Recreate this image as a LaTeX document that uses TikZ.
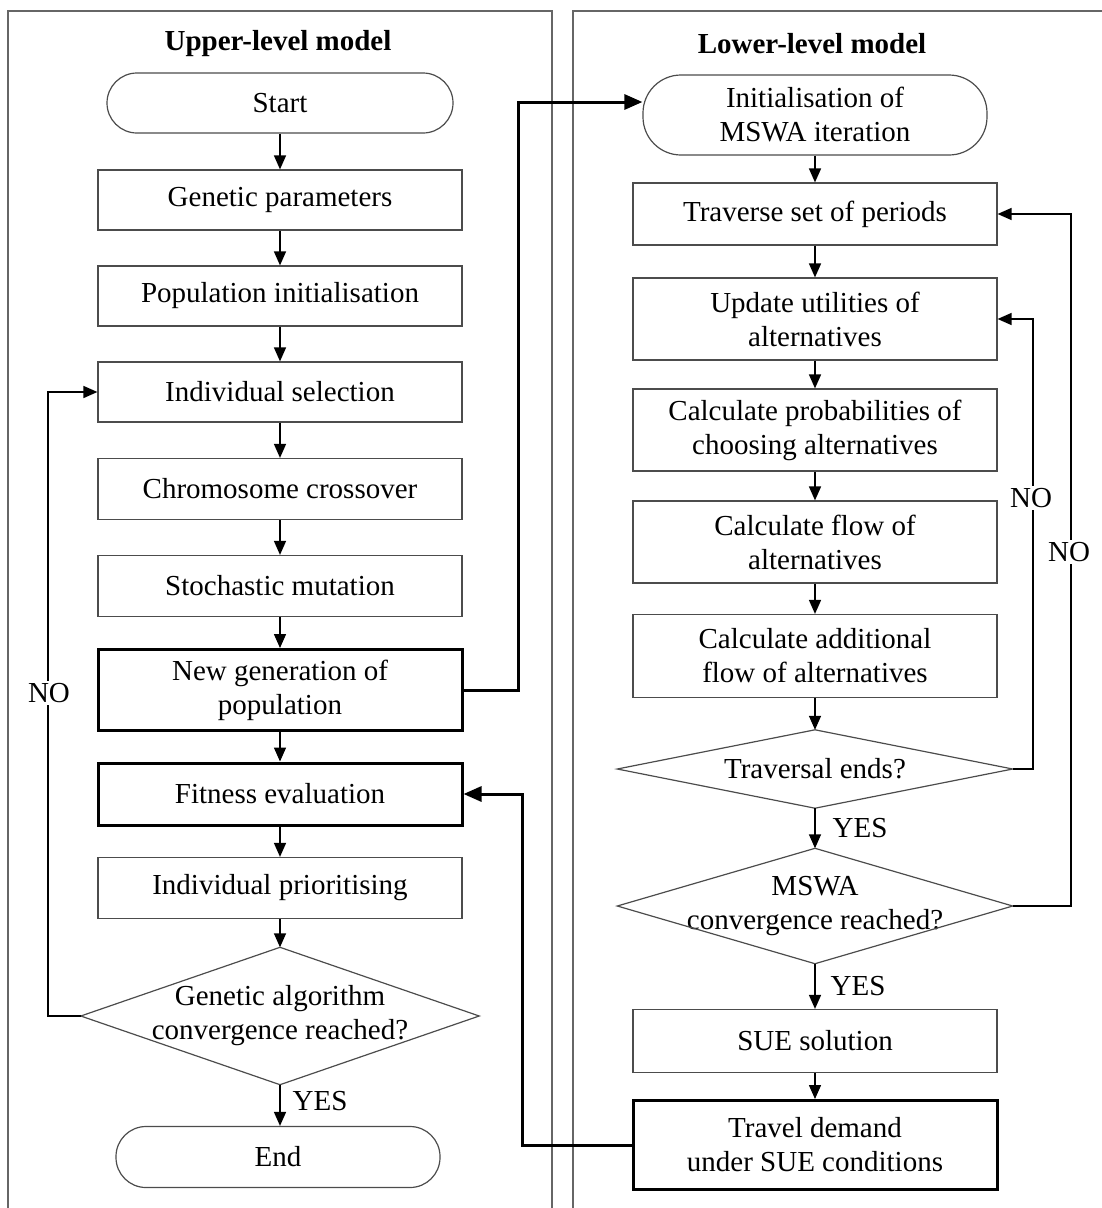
\documentclass[tikz,border=0pt]{standalone}
\usepackage{fontspec}
\setmainfont{Liberation Serif}
\usetikzlibrary{arrows.meta}
\begin{document}
\begin{tikzpicture}[x=1pt,y=-1pt,
  every node/.style={font=\fontsize{29}{34}\selectfont, align=center, inner sep=0pt},
  box/.style={draw=black!70, line width=1.2pt, minimum width=364pt},
  thickbox/.style={draw=black, line width=3pt, minimum width=364pt},
  term/.style={draw=black!70, line width=1.2pt},
  diam/.style={draw=none},
  dline/.style={draw=black!70, line width=1.2pt},
  flow/.style={draw=black, line width=1.5pt, -{Triangle[length=14pt,width=12pt]}},
  bigflow/.style={draw=black, line width=3pt, -{Triangle[length=18pt,width=15pt]}},
  lab/.style={fill=white, inner sep=2pt},
  title/.style={font=\fontsize{29}{34}\selectfont\bfseries},
  panel/.style={draw=black!60, line width=1.2pt}
]
\path[use as bounding box] (0,0) rectangle (1101,1208);
% panels
\draw[panel] (8,1212) -- (8,11) -- (552,11) -- (552,1212);
\draw[panel] (573,1212) -- (573,11) -- (1105,11);
\node[title] (t1) at (278,44) {Upper-level model};
\node[title] (t2) at (812,44) {Lower-level model};

% left column
\node[term, minimum width=346pt, minimum height=60pt, rounded corners=30pt] (start) at (280,103) {Start};
\node[box, minimum height=60pt] (gp) at (280,200) {Genetic parameters};
\node[box, minimum height=60pt] (pi) at (280,296) {Population initialisation};
\node[box, minimum height=60pt] (is) at (280,392) {Individual selection};
\node[box, minimum height=61pt] (cc) at (280,489) {Chromosome crossover};
\node[box, minimum height=61pt] (sm) at (280,586) {Stochastic mutation};
\node[thickbox, minimum height=81pt] (ng) at (280,690) {New generation of\\population};
\node[thickbox, minimum height=62pt] (fe) at (280,794) {Fitness evaluation};
\node[box, minimum height=61pt] (ip) at (280,888) {Individual prioritising};
\node[diam, minimum width=398pt, minimum height=137pt] (ga) at (280,1016) {Genetic algorithm\\convergence reached?};
\draw[dline] (ga.north) -- (ga.east) -- (ga.south) -- (ga.west) -- cycle;
\node[term, minimum width=324pt, minimum height=61pt, rounded corners=30pt] (end) at (278,1157) {End};

% right column
\node[term, minimum width=344pt, minimum height=80pt, rounded corners=38pt] (init) at (815,115) {Initialisation of\\MSWA iteration};
\node[box, minimum height=62pt] (tsp) at (815,214) {Traverse set of periods};
\node[box, minimum height=82pt] (upd) at (815,319) {Update utilities of\\alternatives};
\node[box, minimum height=82pt] (cp) at (815,430) {Calculate probabilities of\\choosing alternatives};
\node[box, minimum height=82pt] (cf) at (815,542) {Calculate flow of\\alternatives};
\node[box, minimum height=83pt] (ca) at (815,656) {Calculate additional\\flow of alternatives};
\node[diam, minimum width=395pt, minimum height=78pt] (te) at (815,769) {Traversal ends?};
\draw[dline] (te.north) -- (te.east) -- (te.south) -- (te.west) -- cycle;
\node[diam, minimum width=395pt, minimum height=115pt] (mc) at (815,906) {MSWA\\convergence reached?};
\draw[dline] (mc.north) -- (mc.east) -- (mc.south) -- (mc.west) -- cycle;
\node[box, minimum height=63pt] (sue) at (815,1041) {SUE solution};
\node[thickbox, minimum height=89pt] (td) at (815,1145) {Travel demand\\under SUE conditions};

% coordinates for loops
\coordinate (lx) at (48,0);
\coordinate (r1) at (1033,0);
\coordinate (r2) at (1071,0);
\coordinate (b1) at (518,0);
\coordinate (b2) at (522,0);

% left flow
\draw[flow] (start) -- (gp);
\draw[flow] (gp) -- (pi);
\draw[flow] (pi) -- (is);
\draw[flow] (is) -- (cc);
\draw[flow] (cc) -- (sm);
\draw[flow] (sm) -- (ng);
\draw[flow] (ng) -- (fe);
\draw[flow] (fe) -- (ip);
\draw[flow] (ip) -- (ga.north);
\draw[flow] (ga.south) -- (ga.south |- end.north);
\draw[flow] (ga.west) -- (ga.west -| lx) -- (is.west -| lx) -- (is.west);
\node[lab] (no1) at (49,693) {NO};
\node (yes1) at (320,1101) {YES};

% right flow
\draw[flow] (init) -- (tsp);
\draw[flow] (tsp) -- (upd);
\draw[flow] (upd) -- (cp);
\draw[flow] (cp) -- (cf);
\draw[flow] (cf) -- (ca);
\draw[flow] (ca) -- (te.north);
\draw[flow] (te.south) -- (mc.north);
\draw[flow] (mc.south) -- (sue);
\draw[flow] (sue) -- (td);
\draw[flow] (te.east) -- (te.east -| r1) -- (upd.east -| r1) -- (upd.east);
\draw[flow] (mc.east) -- (mc.east -| r2) -- (tsp.east -| r2) -- (tsp.east);
\node[lab] (no2) at (1031,498) {NO};
\node[lab] (no3) at (1069,552) {NO};
\node (yes2) at (860,828) {YES};
\node (yes3) at (858,986) {YES};

% cross connections
\draw[bigflow] (ng.east) -- (ng.east -| b1) -- ([yshift=13pt]init.west -| b1) -- ([yshift=13pt]init.west);
\draw[bigflow] (td.west) -- (td.west -| b2) -- (fe.east -| b2) -- (fe.east);
\end{tikzpicture}
\end{document}
